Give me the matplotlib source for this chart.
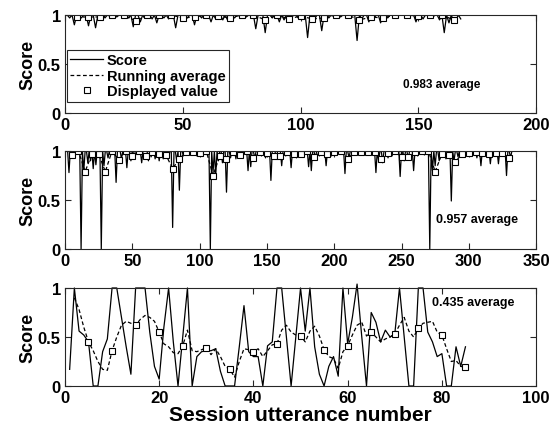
import numpy as np
import matplotlib
matplotlib.use('Agg')
import matplotlib.pyplot as plt

plt.rcParams['font.family'] = ['Liberation Sans', 'DejaVu Sans']
plt.rcParams['font.weight'] = 'bold'

# ---- top session: 168 utterances, score is 1.0 except at these dips ----
top_n = 168
top_dip_x = [2, 4, 7, 10, 13, 17, 22, 27, 29, 32, 34, 37, 39, 42, 44, 47, 50, 52, 55,
             58, 62, 64, 67, 69, 72, 77, 81, 85, 88, 91, 93, 96, 99, 103, 106, 109,
             112, 117, 121, 124, 126, 129, 131, 134, 137, 141, 146, 149, 152, 156,
             159, 161, 163, 165, 166, 168]
top_dip_y = [0.97, 0.90, 0.97, 0.89, 0.87, 0.97, 0.98, 0.97, 0.88, 0.93, 0.97, 0.96,
             0.92, 0.97, 0.96, 0.87, 0.95, 0.97, 0.90, 0.97, 0.93, 0.96, 0.95, 0.95,
             0.97, 0.98, 0.86, 0.82, 0.97, 0.93, 0.95, 0.96, 0.97, 0.77, 0.96, 0.84,
             0.97, 0.98, 0.97, 0.74, 0.96, 0.93, 0.95, 0.92, 0.97, 0.98, 0.97, 0.93,
             0.96, 0.97, 0.95, 0.82, 0.92, 0.93, 0.95, 0.96]
top_shown = [0.98, 0.98, 0.98, 1.00, 1.00, 0.94, 1.00, 1.00, 1.00, 0.97, 0.98, 1.00,
             0.99, 0.97, 1.00, 1.00, 0.95, 1.00, 0.96, 0.99, 0.96, 0.97, 1.00, 1.00,
             0.95, 0.98, 0.97, 1.00, 1.00, 0.99, 1.00, 1.00, 0.95]
top_label = '0.983 average'

# ---- middle session: 332 utterances ----
mid_n = 332
mid_dip_x = [3, 7, 12, 14, 17, 19, 21, 23, 27, 29, 32, 38, 42, 46, 49, 52, 57, 62, 64,
             67, 70, 73, 77, 80, 83, 85, 88, 93, 98, 102, 108, 110, 112, 114, 117, 120,
             123, 127, 130, 136, 138, 141, 146, 149, 153, 157, 161, 164, 168, 172, 176,
             181, 183, 186, 189, 194, 198, 202, 208, 211, 216, 221, 226, 231, 233, 236,
             240, 243, 249, 252, 255, 259, 262, 267, 271, 273, 275, 278, 280, 283, 287,
             289, 292, 297, 302, 306, 309, 312, 316, 319, 322, 325, 328, 331]
mid_dip_y = [0.78, 0.93, 0.00, 0.80, 0.88, 0.90, 0.82, 0.86, 0.00, 0.85, 0.93, 0.68,
             0.92, 0.83, 0.90, 0.93, 0.88, 0.90, 0.94, 0.92, 0.90, 0.92, 0.93, 0.22,
             0.90, 0.60, 0.95, 0.96, 0.95, 0.96, 0.00, 0.78, 0.75, 0.90, 0.88, 0.58,
             0.93, 0.92, 0.94, 0.80, 0.84, 0.92, 0.95, 0.93, 0.70, 0.92, 0.85, 0.95,
             0.83, 0.93, 0.94, 0.84, 0.80, 0.92, 0.95, 0.85, 0.95, 0.96, 0.77, 0.93,
             0.96, 0.96, 0.96, 0.78, 0.90, 0.88, 0.93, 0.95, 0.74, 0.90, 0.92, 0.80,
             0.95, 0.96, 0.00, 0.80, 0.85, 0.90, 0.94, 0.92, 0.49, 0.90, 0.94, 0.95,
             0.96, 0.93, 0.85, 0.95, 0.87, 0.95, 0.87, 0.95, 0.75, 0.93]
mid_shown = [0.96, 1.00, 0.79, 0.97, 0.97, 0.79, 1.00, 0.91, 1.00, 0.95, 1.00, 0.95,
             0.99, 0.97, 0.96, 0.82, 0.92, 0.99, 0.99, 0.98, 1.00, 0.75, 0.95, 0.92,
             0.99, 0.96, 1.00, 0.93, 0.99, 0.98, 0.95, 0.95, 0.99, 0.97, 0.97, 1.00,
             0.94, 0.99, 0.97, 0.99, 1.00, 0.92, 0.99, 0.99, 0.99, 0.99, 0.92, 0.98,
             1.00, 0.94, 0.94, 0.99, 1.00, 1.00, 0.79, 0.97, 0.96, 0.89, 0.97, 0.98,
             0.99, 0.98, 0.97, 0.98, 0.98, 0.93]
mid_label = '0.957 average'

# ---- bottom session: 85 utterances ----
bot_score = [0.17, 1.00, 0.56, 0.52, 0.45, 0.00, 0.00, 0.35, 0.48, 1.00,
             1.00, 0.70, 0.40, 0.12, 1.00, 1.00, 1.00, 0.55, 0.20, 0.07,
             0.60, 1.00, 0.45, 0.00, 0.50, 1.00, 0.00, 0.30, 0.35, 0.36,
             0.36, 0.38, 0.15, 0.00, 0.00, 0.00, 0.40, 0.82, 0.35, 0.30,
             0.30, 0.00, 0.41, 0.45, 1.00, 1.00, 0.50, 0.00, 0.50, 1.00,
             0.56, 1.00, 0.40, 0.12, 0.00, 0.20, 0.30, 0.10, 1.00, 0.43,
             0.70, 1.04, 0.50, 0.00, 0.75, 0.65, 0.45, 0.57, 0.50, 0.53,
             1.00, 0.50, 0.00, 0.00, 1.00, 1.00, 0.55, 0.45, 0.30, 0.33,
             0.00, 0.00, 0.40, 0.20, 0.40]
# running average, utterances 2..85
bot_avg = [0.90, 0.78, 0.60, 0.45, 0.36, 0.25, 0.17, 0.16, 0.36,
           0.50, 0.62, 0.66, 0.64, 0.62, 0.68, 0.72, 0.70, 0.66, 0.55,
           0.43, 0.40, 0.34, 0.33, 0.41, 0.57, 0.36, 0.35, 0.37, 0.39,
           0.32, 0.38, 0.30, 0.20, 0.17, 0.09, 0.25, 0.38, 0.37, 0.35,
           0.38, 0.30, 0.36, 0.42, 0.43, 0.57, 0.62, 0.55, 0.52, 0.51,
           0.45, 0.56, 0.61, 0.51, 0.37, 0.30, 0.28, 0.18, 0.35, 0.41,
           0.52, 0.62, 0.65, 0.51, 0.55, 0.50, 0.45, 0.48, 0.50, 0.53,
           0.62, 0.70, 0.56, 0.50, 0.59, 0.64, 0.65, 0.66, 0.55, 0.52,
           0.38, 0.25, 0.26, 0.20, 0.19]
bot_shown = [0.45, 0.36, 0.62, 0.55, 0.41, 0.39, 0.17, 0.35, 0.43, 0.51,
             0.37, 0.41, 0.55, 0.53, 0.59, 0.52, 0.19]
bot_label = '0.435 average'


def dip_series(n, xs, ys):
    s = np.ones(n)
    s[np.array(xs) - 1] = ys
    return s


def style_axes(ax, xmax, xstep):
    ax.set_xlim(0, xmax)
    ax.set_ylim(0, 1)
    ax.set_xticks(np.arange(0, xmax + 1, xstep))
    ax.set_yticks([0, 0.5, 1])
    ax.set_yticklabels(['0', '0.5', '1'])
    ax.tick_params(direction='in', top=True, right=True, length=4, width=0.8,
                   labelsize=12, colors='#262626', pad=3)
    for lbl in ax.get_xticklabels() + ax.get_yticklabels():
        lbl.set_color('black')
    for sp in ax.spines.values():
        sp.set_color('#262626')
        sp.set_linewidth(0.8)
    ax.set_ylabel('Score', fontsize=13, fontweight='bold', labelpad=1)


fig = plt.figure(figsize=(5.55, 4.27), dpi=100)
left, width, height = 0.117, 0.849, 0.2295
ax_top = fig.add_axes([left, 0.733, width, height])
ax_mid = fig.add_axes([left, 0.4145, width, height])
ax_bot = fig.add_axes([left, 0.0937, width, height])

line_kw = dict(color='black', linewidth=0.9)
avg_kw = dict(color='black', linewidth=0.9, linestyle='--', dashes=(3, 2))
sq_kw = dict(linestyle='none', marker='s', markersize=4.3, markerfacecolor='white',
             markeredgecolor='black', markeredgewidth=0.8)

# top
top_score = dip_series(top_n, top_dip_x, top_dip_y)
x_top = np.arange(1, top_n + 1)
x_top_shown = np.arange(5, 5 * len(top_shown) + 1, 5)
ax_top.plot(x_top, top_score, label='Score', **line_kw)
ax_top.plot(x_top_shown, top_shown, label='Running average', **avg_kw)
ax_top.plot(x_top_shown, top_shown, label='Displayed value', **sq_kw)
style_axes(ax_top, 200, 50)
ax_top.text(0.718, 0.296, top_label, transform=ax_top.transAxes, fontsize=8.5,
            fontweight='bold', va='center')
leg = ax_top.legend(loc='lower left', bbox_to_anchor=(0.004, 0.115), fontsize=10.5,
                    frameon=True, fancybox=False, edgecolor='#262626', framealpha=1,
                    handlelength=2.2, handletextpad=0.3, borderpad=0.25,
                    labelspacing=0.1, borderaxespad=0)
leg.get_frame().set_linewidth(0.8)

# middle
mid_score = dip_series(mid_n, mid_dip_x, mid_dip_y)
x_mid = np.arange(1, mid_n + 1)
x_mid_shown = np.arange(5, 5 * len(mid_shown) + 1, 5)
ax_mid.plot(x_mid, mid_score, **line_kw)
ax_mid.plot(x_mid_shown, mid_shown, **avg_kw)
ax_mid.plot(x_mid_shown, mid_shown, **sq_kw)
style_axes(ax_mid, 350, 50)
ax_mid.text(0.788, 0.306, mid_label, transform=ax_mid.transAxes, fontsize=9,
            fontweight='bold', va='center')

# bottom
x_bot = np.arange(1, len(bot_score) + 1)
x_bot_avg = np.arange(2, len(bot_avg) + 2)
x_bot_shown = np.arange(5, 5 * len(bot_shown) + 1, 5)
ax_bot.plot(x_bot, bot_score, clip_on=False, **line_kw)
ax_bot.plot(x_bot_avg, bot_avg, **avg_kw)
ax_bot.plot(x_bot_shown, bot_shown, **sq_kw)
style_axes(ax_bot, 100, 20)
ax_bot.text(0.779, 0.854, bot_label, transform=ax_bot.transAxes, fontsize=9,
            fontweight='bold', va='center')
ax_bot.set_xlabel('Session utterance number', fontsize=15, fontweight='bold', labelpad=0)

fig.savefig('out.png', dpi=100)
